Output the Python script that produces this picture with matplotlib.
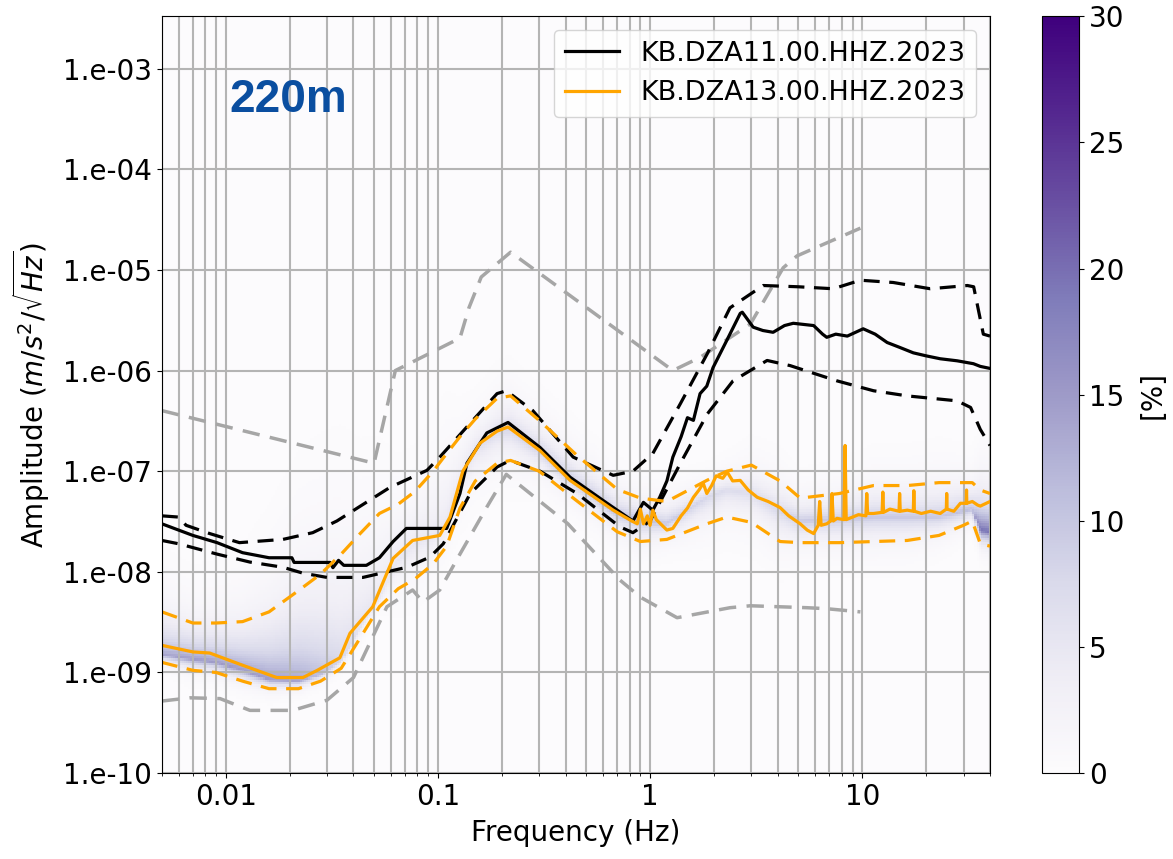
import numpy as np
import matplotlib
matplotlib.use("Agg")
import matplotlib.pyplot as plt
from matplotlib.ticker import FuncFormatter, LogLocator, NullFormatter, NullLocator, FixedLocator

# noise models (grey dashed)
nhnm_f = [0.005, 0.05, 0.063, 0.127, 0.14, 0.16, 0.22, 1.28, 1.72, 2.97, 4.24, 4.93, 9.8]
nhnm_a = [4.0e-7, 1.2e-7, 1.0e-6, 2.1e-6, 4.2e-6, 8.5e-6, 1.5e-5, 1.0e-6, 1.35e-6, 2.9e-6, 1.05e-5, 1.38e-5, 2.6e-5]
nlnm_f = [0.005, 0.0068, 0.0094, 0.013, 0.0207, 0.030, 0.04, 0.0575, 0.076, 0.085, 0.102, 0.127, 0.17, 0.21,
          0.41, 0.72, 0.9, 1.34, 2.38, 2.97, 5.5, 6.8, 9.8]
nlnm_a = [5.2e-10, 5.6e-10, 5.5e-10, 4.2e-10, 4.2e-10, 5.3e-10, 8.9e-10, 4.5e-9, 6.6e-9, 5.0e-9, 6.6e-9, 1.5e-8,
          4.4e-8, 9.3e-8, 3.0e-8, 8.3e-9, 5.6e-9, 3.5e-9, 4.4e-9, 4.6e-9, 4.4e-9, 4.3e-9, 4.0e-9]

# KB.DZA11 (black)
f11_med = [0.005, 0.007, 0.0091, 0.012, 0.016, 0.0205, 0.021, 0.031, 0.032, 0.034, 0.036, 0.046, 0.053, 0.0615,
           0.071, 0.11, 0.127, 0.137, 0.17, 0.214, 0.303, 0.42, 0.627, 0.83, 0.93, 1.03, 1.11, 1.2, 1.28, 1.4,
           1.5, 1.6, 1.72, 1.85, 1.98, 2.3, 2.66, 2.72, 3.06, 3.4, 3.8, 4.3, 4.73, 5.9, 6.5, 6.8, 7.5, 8.5,
           10.1, 11.5, 13.1, 15, 17.4, 20, 23.3, 28, 33.4, 36, 40]
a11_med = [3.0e-8, 2.3e-8, 1.95e-8, 1.55e-8, 1.38e-8, 1.38e-8, 1.24e-8, 1.24e-8, 1.1e-8, 1.3e-8, 1.16e-8, 1.16e-8,
           1.38e-8, 2.0e-8, 2.7e-8, 2.7e-8, 6e-8, 1.2e-7, 2.4e-7, 3.05e-7, 1.72e-7, 8.7e-8, 4.8e-8, 3.2e-8,
           4.9e-8, 4.1e-8, 5.5e-8, 8e-8, 1.38e-7, 2.2e-7, 3.4e-7, 3.2e-7, 5.9e-7, 7e-7, 1.07e-6, 2.0e-6, 3.7e-6,
           3.8e-6, 2.7e-6, 2.5e-6, 2.4e-6, 2.8e-6, 2.95e-6, 2.8e-6, 2.3e-6, 2.14e-6, 2.3e-6, 2.2e-6, 2.6e-6,
           2.3e-6, 1.9e-6, 1.7e-6, 1.5e-6, 1.4e-6, 1.31e-6, 1.25e-6, 1.17e-6, 1.1e-6, 1.05e-6]
f11_hi = [0.005, 0.006, 0.0065, 0.0084, 0.0116, 0.0186, 0.0257, 0.0334, 0.0594, 0.0888, 0.102, 0.142, 0.19, 0.21,
          0.28, 0.434, 0.67, 0.83, 1.03, 1.39, 1.86, 2.38, 3.41, 5.0, 7.3, 9.8, 14, 20.9, 31.3, 33.5, 37.2, 40]
a11_hi = [3.6e-8, 3.5e-8, 2.9e-8, 2.4e-8, 1.95e-8, 2.1e-8, 2.45e-8, 3.2e-8, 6.9e-8, 1.02e-7, 1.38e-7, 3.0e-7,
          5.9e-7, 6.3e-7, 4.0e-7, 1.38e-7, 9.1e-8, 1.0e-7, 1.5e-7, 4.7e-7, 1.47e-6, 4.2e-6, 7.0e-6, 6.8e-6,
          6.5e-6, 7.9e-6, 7.5e-6, 6.5e-6, 7.0e-6, 6.8e-6, 2.3e-6, 2.2e-6]
f11_lo = [0.005, 0.006, 0.0091, 0.013, 0.0186, 0.0231, 0.030, 0.0443, 0.0714, 0.0916, 0.106, 0.142, 0.19, 0.219,
          0.303, 0.453, 0.72, 0.83, 1.0, 1.39, 1.86, 2.46, 3.56, 4.57, 7.6, 11.3, 16.3, 28, 32.4, 36, 40]
a11_lo = [2.05e-8, 1.9e-8, 1.5e-8, 1.25e-8, 1.11e-8, 9.7e-9, 8.8e-9, 8.8e-9, 1.11e-8, 1.4e-8, 1.9e-8, 6e-8,
          1.1e-7, 1.28e-7, 1.0e-7, 6e-8, 2.8e-8, 2.45e-8, 3.2e-8, 1.2e-7, 3.7e-7, 7.9e-7, 1.26e-6, 1.12e-6,
          7.9e-7, 6.3e-7, 5.6e-7, 5.0e-7, 4.3e-7, 2.6e-7, 1.8e-7]

# KB.DZA13 (orange)
f13_med = [0.005, 0.007, 0.0084, 0.012, 0.0174, 0.0231, 0.027, 0.0345, 0.0385, 0.0493, 0.0615, 0.076, 0.102,
           0.114, 0.131, 0.158, 0.19, 0.214, 0.303, 0.42, 0.67, 0.82, 0.87, 0.9, 0.93, 0.97, 1.0, 1.03, 1.07,
           1.12, 1.2, 1.28, 1.4, 1.5, 1.6, 1.7, 1.78, 1.85, 1.95, 2.05, 2.2, 2.31, 2.45, 2.66, 2.9, 3.2, 3.6,
           4.1, 4.5, 5.1, 5.5, 5.9, 6.2, 6.3, 6.4, 6.8, 7.1, 7.2, 7.3, 7.6, 8.2, 8.3, 8.4, 9.0, 9.6, 10.4, 10.5,
           10.6, 11.3, 12.4, 12.5, 12.6, 13.5, 14.9, 15.0, 15.1, 16.3, 17.4, 17.5, 17.6, 19.0, 21.0, 23.3,
           24.9, 25.0, 25.1, 27.0, 29.0, 30.9, 31.0, 31.1, 33.0, 35.0, 36.0, 40.0]
a13_med = [1.86e-9, 1.6e-9, 1.56e-9, 1.18e-9, 8.9e-10, 8.9e-10, 1.05e-9, 1.4e-9, 2.45e-9, 4.5e-9, 1.36e-8,
           2.05e-8, 2.3e-8, 3.5e-8, 1.0e-7, 1.9e-7, 2.5e-7, 2.75e-7, 1.6e-7, 8.1e-8, 4.1e-8, 3.2e-8, 3.0e-8,
           4.2e-8, 3.0e-8, 3.6e-8, 2.9e-8, 4.1e-8, 3.3e-8, 3.0e-8, 2.6e-8, 2.7e-8, 3.6e-8, 4.3e-8, 5.5e-8,
           6.5e-8, 7.6e-8, 6.0e-8, 7.2e-8, 9.0e-8, 8.5e-8, 9.8e-8, 8.0e-8, 8.1e-8, 6.5e-8, 5.5e-8, 5.0e-8,
           4.35e-8, 3.6e-8, 3.0e-8, 2.6e-8, 2.4e-8, 2.9e-8, 5.0e-8, 2.9e-8, 3.0e-8, 3.2e-8, 6.0e-8, 3.2e-8,
           3.4e-8, 3.3e-8, 1.8e-7, 3.3e-8, 3.5e-8, 3.7e-8, 3.6e-8, 6.0e-8, 3.8e-8, 3.8e-8, 3.9e-8, 6.2e-8,
           3.9e-8, 4.2e-8, 4.0e-8, 6.0e-8, 4.0e-8, 4.1e-8, 4.0e-8, 6.4e-8, 4.0e-8, 3.8e-8, 4.0e-8, 3.8e-8,
           4.2e-8, 6.0e-8, 4.2e-8, 4.0e-8, 4.8e-8, 4.8e-8, 6.5e-8, 4.8e-8, 5.0e-8, 4.6e-8, 4.5e-8, 5.0e-8]

# DZA13 percentiles, most probable level and PDF peak (%) on a common frequency list
f13 = [0.005, 0.007, 0.009, 0.012, 0.016, 0.022, 0.028, 0.035, 0.043, 0.053, 0.065, 0.078, 0.095, 0.11, 0.127,
       0.15, 0.19, 0.22, 0.3, 0.45, 0.7, 0.9, 1.2, 1.85, 2.3, 3.0, 4.1, 5.1, 7.8, 11.3, 16.3, 23, 30, 33, 36, 40]
a13_lo = [1.26e-9, 1.05e-9, 1.0e-9, 8.2e-10, 6.9e-10, 6.9e-10, 8.2e-10, 1.1e-9, 2.2e-9, 4.5e-9, 6.8e-9, 8.5e-9,
          1.2e-8, 1.8e-8, 4.3e-8, 8.0e-8, 1.2e-7, 1.28e-7, 1.0e-7, 5.1e-8, 2.5e-8, 2.0e-8, 2.1e-8, 3.0e-8,
          3.5e-8, 3.1e-8, 2.0e-8, 1.95e-8, 1.95e-8, 2.0e-8, 2.05e-8, 2.3e-8, 2.9e-8, 3.2e-8, 1.9e-8, 1.8e-8]
a13_hi = [4.0e-9, 3.1e-9, 3.1e-9, 3.2e-9, 4.0e-9, 6.5e-9, 9.5e-9, 1.5e-8, 2.4e-8, 3.8e-8, 4.7e-8, 6.3e-8,
          1.0e-7, 1.5e-7, 2.2e-7, 3.3e-7, 5.3e-7, 5.6e-7, 3.2e-7, 1.45e-7, 6.6e-8, 5.4e-8, 5.0e-8, 8.1e-8,
          1.0e-7, 1.15e-7, 8.0e-8, 5.4e-8, 6.0e-8, 7.2e-8, 7.2e-8, 7.7e-8, 7.7e-8, 7.7e-8, 6.5e-8, 6.0e-8]
a13_mode = [1.5e-9, 1.35e-9, 1.25e-9, 1.05e-9, 8.5e-10, 8.2e-10, 9.5e-10, 1.3e-9, 2.8e-9, 5.5e-9, 1.3e-8, 1.9e-8,
            2.2e-8, 3.0e-8, 8.0e-8, 1.6e-7, 2.4e-7, 2.6e-7, 1.6e-7, 7.5e-8, 3.8e-8, 3.2e-8, 3.0e-8, 5.5e-8,
            6.5e-8, 6.0e-8, 4.0e-8, 3.2e-8, 3.3e-8, 3.5e-8, 3.5e-8, 3.5e-8, 4.0e-8, 4.2e-8, 2.6e-8, 2.5e-8]
pdf_peak = [14, 15, 15, 15, 15, 14, 11, 8, 6, 5, 5, 5, 5, 5, 5, 6, 7, 8, 9, 10, 11, 11, 10, 8, 7, 7, 8, 10, 10,
            10, 10, 10, 11, 11, 20, 20]

y_ticks = [1e-10, 1e-9, 1e-8, 1e-7, 1e-6, 1e-5, 1e-4, 1e-3]

# build the PDF image for DZA13
fgrid = np.logspace(np.log10(0.005), np.log10(40), 400)
agrid = np.logspace(-10, -2.5, 320)
lf = np.log10(fgrid)
lf13 = np.log10(f13)
mode = np.interp(lf, lf13, np.log10(a13_mode))
lo = np.interp(lf, lf13, np.log10(a13_lo))
hi = np.interp(lf, lf13, np.log10(a13_hi))
peak = np.interp(lf, lf13, pdf_peak)
d = np.log10(agrid)[:, None] - mode[None, :]
s = np.where(d < 0, (mode - lo)[None, :] / 1.5, (hi - mode)[None, :] / 1.6)
pdf = peak[None, :] * np.exp(-np.abs(d) / np.maximum(s, 0.03))

plt.rcParams['font.size'] = 20
fig = plt.figure(figsize=(11.73, 8.59), dpi=100)
ax = fig.add_axes([0.138, 0.100, 0.706, 0.881])
cax = fig.add_axes([0.888, 0.100, 0.032, 0.881])

mesh = ax.pcolormesh(fgrid, agrid, pdf, cmap='Purples', vmin=0, vmax=30, shading='auto', rasterized=True)

dash = (5, 3)
ax.plot(nhnm_f, nhnm_a, color='#a6a6a6', lw=2.5, ls='--', dashes=dash)
ax.plot(nlnm_f, nlnm_a, color='#a6a6a6', lw=2.5, ls='--', dashes=dash)

ax.plot(f11_med, a11_med, color='black', lw=2.3, label='KB.DZA11.00.HHZ.2023')
ax.plot(f11_hi, a11_hi, color='black', lw=2.3, ls='--', dashes=dash)
ax.plot(f11_lo, a11_lo, color='black', lw=2.3, ls='--', dashes=dash)

ax.plot(f13_med, a13_med, color='orange', lw=2.3, label='KB.DZA13.00.HHZ.2023')
ax.plot(f13, a13_hi, color='orange', lw=2.3, ls='--', dashes=dash)
ax.plot(f13, a13_lo, color='orange', lw=2.3, ls='--', dashes=dash)

ax.set_xscale('log')
ax.set_yscale('log')
ax.set_xlim(0.005, 40)
ax.set_ylim(1e-10, 10 ** -2.48)

ax.set_xticks([0.01, 0.1, 1, 10])
ax.set_xticklabels(['0.01', '0.1', '1', '10'])
ax.xaxis.set_minor_locator(LogLocator(base=10, subs=np.arange(2, 10)))
ax.xaxis.set_minor_formatter(NullFormatter())
ax.yaxis.set_major_locator(FixedLocator(y_ticks))
ax.yaxis.set_major_formatter(FuncFormatter(lambda v, p: '%#.0e' % v))
ax.yaxis.set_minor_locator(NullLocator())

ax.grid(True, which='both', axis='x', color='#b4b4b4', lw=1.5)
ax.grid(True, which='major', axis='y', color='#b4b4b4', lw=1.5)
for g in ax.get_xgridlines() + ax.get_ygridlines():
    g.set_zorder(1.5)

ax.set_xlabel('Frequency (Hz)', labelpad=6)
ax.set_ylabel('Amplitude ($m/s^2/\\sqrt{Hz}$)', labelpad=8)

ax.legend(loc='upper right', fontsize=19.5, handlelength=2.0)
ax.text(0.081, 0.889, '220m', transform=ax.transAxes, fontsize=33, fontweight='bold',
        family='Liberation Sans', color='#0a4ea0', va='center', ha='left')

cb = fig.colorbar(mesh, cax=cax)
cb.set_label('[%]', labelpad=10)
cb.set_ticks([0, 5, 10, 15, 20, 25, 30])

fig.savefig('out.png', dpi=100)
